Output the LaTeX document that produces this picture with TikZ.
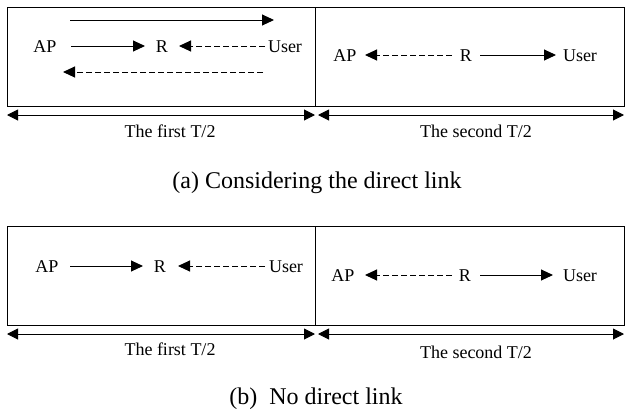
\documentclass[tikz,border=0pt]{standalone}
\usepackage{fontspec}
\setmainfont{Liberation Serif}
\usetikzlibrary{arrows.meta}
\begin{document}
\begin{tikzpicture}[x=1pt,y=-1pt,
  lbl/.style={anchor=base,inner sep=0pt,font=\fontsize{18}{20}\selectfont},
  captext/.style={anchor=base,inner sep=0pt,font=\fontsize{24}{26}\selectfont},
  frame/.style={draw,line width=0.9pt},
  solidarr/.style={line width=1pt,-{Triangle[length=12pt,width=11pt]}},
  dasharr/.style={line width=1pt,dash pattern=on 6pt off 3pt,-{Triangle[length=12pt,width=11pt]}},
  dimarr/.style={line width=1pt,{Triangle[length=11pt,width=11pt]}-{Triangle[length=11pt,width=11pt]}}]
\useasboundingbox (0,0) rectangle (625,410);
% ---------- panel (a) ----------
\node[frame,minimum width=308pt,minimum height=99pt,inner sep=0pt,anchor=north west] (a1) at (7,7) {};
\node[frame,minimum width=309pt,minimum height=99pt,inner sep=0pt,anchor=north west] (a2) at (315,7) {};
\node[lbl] (aAP1) at (45,52) {AP};
\node[lbl] (aR1) at (162,52) {R};
\node[lbl] (aU1) at (285,52) {User};
\coordinate (aT1s) at (70,20);  \coordinate (aT1e) at (274,20);
\coordinate (aA1s) at (71,46);  \coordinate (aA1e) at (145,46);
\coordinate (aU1s) at (265,46); \coordinate (aU1e) at (179,46);
\coordinate (aB1s) at (263,72); \coordinate (aB1e) at (63,72);
\draw[solidarr] (aT1s) -- (aT1e);
\draw[solidarr] (aA1s) -- (aA1e);
\draw[dasharr] (aU1s) -- (aU1e);
\draw[dasharr] (aB1s) -- (aB1e);
\node[lbl] (aAP2) at (345,61) {AP};
\node[lbl] (aR2) at (466,61) {R};
\node[lbl] (aU2) at (580,61) {User};
\coordinate (aD2s) at (452,55); \coordinate (aD2e) at (365,55);
\coordinate (aS2s) at (480,55); \coordinate (aS2e) at (556,55);
\draw[dasharr] (aD2s) -- (aD2e);
\draw[solidarr] (aS2s) -- (aS2e);
\coordinate (aM0) at (7,115); \coordinate (aM1) at (315,115);
\coordinate (aM2) at (318,115); \coordinate (aM3) at (624,115);
\draw[dimarr] (aM0) -- (aM1);
\draw[dimarr] (aM2) -- (aM3);
\node[lbl] (aL1) at (170,137) {The first T/2};
\node[lbl] (aL2) at (476,137) {The second T/2};
\node[captext] (capa) at (317,188) {(a) Considering the direct link};
% ---------- panel (b) ----------
\node[frame,minimum width=308pt,minimum height=99pt,inner sep=0pt,anchor=north west] (b1) at (7,226) {};
\node[frame,minimum width=309pt,minimum height=99pt,inner sep=0pt,anchor=north west] (b2) at (315,226) {};
\node[lbl] (bAP1) at (47,272) {AP};
\node[lbl] (bR1) at (160,272) {R};
\node[lbl] (bU1) at (286,272) {User};
\coordinate (bA1s) at (70,266);  \coordinate (bA1e) at (143,266);
\coordinate (bU1s) at (265,266); \coordinate (bU1e) at (178,266);
\draw[solidarr] (bA1s) -- (bA1e);
\draw[dasharr] (bU1s) -- (bU1e);
\node[lbl] (bAP2) at (343,281) {AP};
\node[lbl] (bR2) at (465,281) {R};
\node[lbl] (bU2) at (580,281) {User};
\coordinate (bD2s) at (452,275); \coordinate (bD2e) at (365,275);
\coordinate (bS2s) at (480,275); \coordinate (bS2e) at (553,275);
\draw[dasharr] (bD2s) -- (bD2e);
\draw[solidarr] (bS2s) -- (bS2e);
\coordinate (bM0) at (7,334); \coordinate (bM1) at (315,334);
\coordinate (bM2) at (318,334); \coordinate (bM3) at (624,334);
\draw[dimarr] (bM0) -- (bM1);
\draw[dimarr] (bM2) -- (bM3);
\node[lbl] (bL1) at (170,355) {The first T/2};
\node[lbl] (bL2) at (476,358) {The second T/2};
\node[captext] (capb) at (316,404) {(b)\ \ No direct link};
\end{tikzpicture}
\end{document}
